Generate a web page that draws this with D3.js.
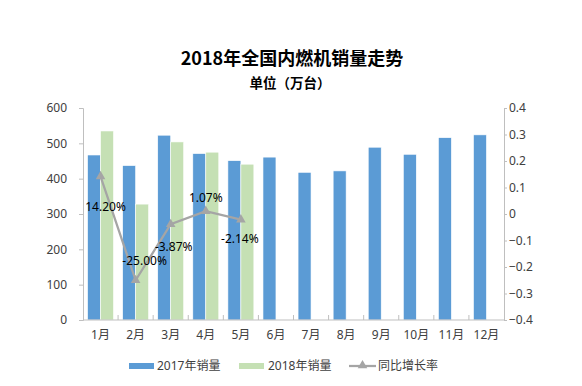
<!DOCTYPE html>
<html><head><meta charset="utf-8">
<script src="https://cdn.jsdelivr.net/npm/d3@7"></script>
<style>body{margin:0;background:#fff}svg{display:block;font-family:"Noto Sans","Noto Sans CJK SC",sans-serif}</style>
</head><body>
<script>
const months = ["1月","2月","3月","4月","5月","6月","7月","8月","9月","10月","11月","12月"];
const sales2017 = [467,437,523,471,451,461,418,422,489,469,516,524];
const sales2018 = [535,328,504,475,441];
const growth = [0.142,-0.25,-0.0387,0.0107,-0.0214];
const growthLabels = ["14.20%","-25.00%","-3.87%","1.07%","-2.14%"];
const leftTicks = [0,100,200,300,400,500,600];
const rightTicks = [-0.4,-0.3,-0.2,-0.1,0,0.1,0.2,0.3,0.4];
const seriesNames = ["2017年销量","2018年销量","同比增长率"];
const title = "2018年全国内燃机销量走势";
const subtitle = "单位（万台）";

const W=582,H=386;
const svg=d3.select("body").append("svg").attr("width",W).attr("height",H);
const L=83,R=504,T=108,B=320;
const c2017="#5B9BD5", c2018="#C5E0B4", cLine="#A5A5A5", axisC="#BFBFBF", txtC="#404040";

svg.append("text").attr("x",292).attr("y",65).attr("text-anchor","middle")
  .attr("font-size",18).attr("font-weight","bold").attr("fill","#000")
  .attr("font-family","'Noto Sans CJK SC',sans-serif").text(title);
svg.append("text").attr("x",290).attr("y",88).attr("text-anchor","middle")
  .attr("font-size",13.5).attr("font-weight","bold").attr("fill","#000")
  .attr("font-family","'Noto Sans CJK SC',sans-serif").text(subtitle);

const x=d3.scaleBand().domain(months).range([L,R]).paddingInner(0.26).paddingOuter(0.13);
const xs=d3.scaleBand().domain([0,1]).range([0,x.bandwidth()]);
const yL=d3.scaleLinear().domain([0,600]).range([B,T]);
const yR=d3.scaleLinear().domain([-0.4,0.4]).range([B,T]);

// bars
svg.append("g").selectAll("rect").data(sales2017).join("rect")
  .attr("x",(d,i)=>x(months[i])+xs(0)).attr("width",xs.bandwidth())
  .attr("y",d=>yL(d)).attr("height",d=>B-yL(d)).attr("fill",c2017)
  .attr("stroke","#fff").attr("stroke-width",0.6);
svg.append("g").selectAll("rect").data(sales2018).join("rect")
  .attr("x",(d,i)=>x(months[i])+xs(1)).attr("width",xs.bandwidth())
  .attr("y",d=>yL(d)).attr("height",d=>B-yL(d)).attr("fill",c2018)
  .attr("stroke","#fff").attr("stroke-width",0.6);

// axes
const gl=svg.append("g").attr("transform",`translate(${L},0)`)
  .call(d3.axisLeft(yL).tickValues(leftTicks).tickSize(4).tickPadding(12));
const gr=svg.append("g").attr("transform",`translate(${R},0)`)
  .call(d3.axisRight(yR).tickValues(rightTicks).tickSize(3).tickPadding(2)
    .tickFormat(d=>d===0?"0":d3.format(".1f")(d)));
const gx=svg.append("g").attr("transform",`translate(0,${B})`)
  .call(d3.axisBottom(x).tickSize(0).tickPadding(10));
[gl,gr,gx].forEach(g=>{
  g.select(".domain").attr("stroke",axisC);
  g.selectAll(".tick line").attr("stroke",axisC);
  g.selectAll("text").attr("fill",txtC).attr("font-size",12).attr("font-family","'Noto Sans','Noto Sans CJK SC',sans-serif");
});
gx.select(".domain").attr("d",`M${L},0H${R}`);
// category boundary ticks (upward)
svg.append("g").selectAll("line").data(months.slice(1)).join("line")
  .attr("x1",d=>x(d)-x.step()*x.paddingInner()/2).attr("x2",d=>x(d)-x.step()*x.paddingInner()/2)
  .attr("y1",B).attr("y2",B-5).attr("stroke",axisC);

// line
const cx=i=>x(months[i])+x.bandwidth()/2;
const line=d3.line().x((d,i)=>cx(i)).y(d=>yR(d));
svg.append("path").datum(growth).attr("d",line).attr("fill","none")
  .attr("stroke",cLine).attr("stroke-width",2.25);
const tri=d3.symbol().type(d3.symbolTriangle).size(40);
svg.append("g").selectAll("path").data(growth).join("path")
  .attr("transform",(d,i)=>`translate(${cx(i)},${yR(d)})`).attr("d",tri).attr("fill",cLine);
const dxs=[5,9,3,0,-1], dys=[31,-19,23,-13,19];
svg.append("g").selectAll("text").data(growth).join("text")
  .attr("x",(d,i)=>cx(i)+dxs[i]).attr("y",(d,i)=>yR(d)+dys[i]+4)
  .attr("text-anchor","middle").attr("font-size",12).attr("fill","#000")
  .text((d,i)=>growthLabels[i]);

// legend
const lg=svg.append("g").attr("font-family","'Noto Sans','Noto Sans CJK SC',sans-serif").attr("font-size",12).attr("fill",txtC);
lg.append("rect").attr("x",129).attr("y",363).attr("width",25).attr("height",6).attr("fill",c2017);
lg.append("text").attr("x",157).attr("y",370).text(seriesNames[0]);
lg.append("rect").attr("x",239).attr("y",363).attr("width",25).attr("height",6).attr("fill",c2018);
lg.append("text").attr("x",268).attr("y",370).text(seriesNames[1]);
lg.append("line").attr("x1",349).attr("x2",376).attr("y1",366).attr("y2",366).attr("stroke",cLine).attr("stroke-width",2.25);
lg.append("path").attr("transform","translate(362.5,365.5)").attr("d",tri).attr("fill",cLine);
lg.append("text").attr("x",378).attr("y",370).text(seriesNames[2]);
</script>
</body></html>
